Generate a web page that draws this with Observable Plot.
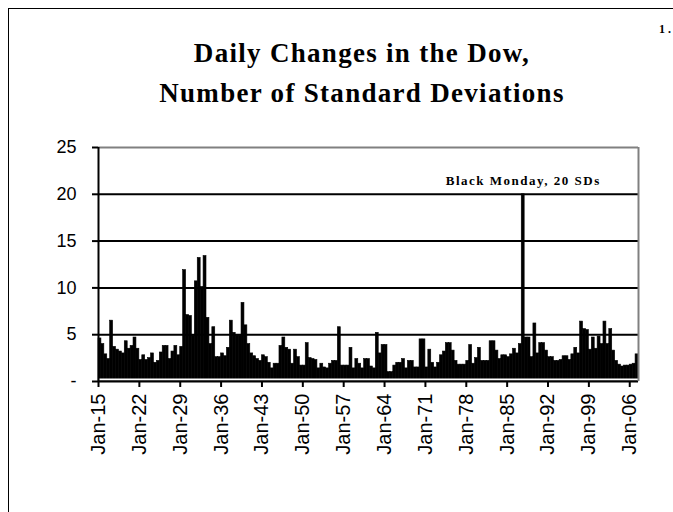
<!DOCTYPE html>
<html>
<head>
<meta charset="utf-8">
<script src="https://cdn.jsdelivr.net/npm/d3@7"></script>
<script src="https://cdn.jsdelivr.net/npm/@observablehq/plot@0.6"></script>
<style>
  html, body { margin: 0; padding: 0; background: #fff; width: 673px; height: 512px; overflow: hidden; }
  #frame { position: absolute; left: 8px; top: 8px; width: 800px; height: 700px; border-left: 1px solid #000; border-top: 1px solid #000; }
  .title { position: absolute; left: 0; width: 724px; text-align: center; font-family: "Liberation Serif", "Times New Roman", serif; font-weight: bold; font-size: 27px; letter-spacing: 1.3px; color: #000; white-space: nowrap; }
  #pageno { position: absolute; left: 659px; top: 22px; font-family: "Liberation Serif", serif; font-weight: bold; font-size: 12px; letter-spacing: 3px; }
  #chart { position: absolute; left: 0; top: 120px; }
  .annot text { letter-spacing: 1.5px; }
</style>
</head>
<body>
<div id="frame"></div>
<div class="title" style="top:38px">Daily Changes in the Dow,</div>
<div class="title" style="top:78px">Number of Standard Deviations</div>
<div id="pageno">1.</div>
<div id="chart"></div>
<script>
// Half-year periods starting January 1915; value = largest daily change, in standard deviations
const startYear = 1915;
const periodsPerYear = 2;
const sdValues = [
  4.6, 4.0, 2.9, 2.4, 6.5, 3.7, 3.4, 3.2, 3.0, 4.3,
  3.5, 3.8, 4.7, 3.5, 2.3, 2.8, 2.3, 2.5, 3.0, 2.0,
  2.2, 3.1, 3.8, 3.8, 2.4, 3.2, 3.8, 2.8, 3.7, 11.9,
  7.1, 7.0, 4.9, 10.7, 13.2, 10.1, 13.4, 6.8, 4.0, 5.8,
  2.6, 2.6, 3.0, 2.7, 3.6, 6.5, 5.2, 4.9, 4.9, 8.4,
  6.0, 4.0, 3.0, 2.7, 2.4, 2.2, 2.8, 2.6, 2.0, 1.4,
  1.9, 1.9, 3.8, 4.7, 3.6, 3.4, 1.9, 3.4, 2.6, 1.7,
  1.7, 4.1, 2.5, 2.4, 2.3, 1.4, 1.9, 1.5, 1.4, 1.9,
  2.2, 2.2, 5.8, 1.7, 1.7, 1.7, 3.6, 1.4, 2.4, 1.9,
  1.4, 2.4, 2.4, 1.6, 1.4, 5.2, 3.0, 3.9, 3.9, 1.0,
  1.0, 1.7, 2.0, 2.0, 2.4, 1.4, 2.2, 2.2, 1.5, 1.5,
  4.5, 4.5, 1.5, 3.4, 2.0, 1.5, 2.0, 2.8, 3.2, 4.1,
  4.1, 3.3, 2.2, 1.8, 1.8, 1.8, 2.2, 3.9, 1.9, 2.5,
  3.6, 2.2, 2.2, 2.2, 4.3, 4.3, 3.3, 2.4, 2.8, 2.8,
  2.6, 2.9, 3.5, 3.0, 4.0, 20.0, 4.7, 4.7, 2.6, 6.2,
  3.0, 4.1, 4.1, 3.3, 2.6, 2.6, 2.2, 2.2, 2.3, 2.7,
  2.7, 2.3, 2.9, 3.6, 3.0, 6.4, 5.6, 5.5, 3.4, 4.7,
  3.5, 4.8, 4.0, 6.4, 4.0, 5.6, 3.3, 2.2, 1.8, 1.6,
  1.7, 1.7, 1.8, 1.9, 2.9
];
const xTickYears = [1915, 1922, 1929, 1936, 1943, 1950, 1957, 1964, 1971, 1978, 1985, 1992, 1999, 2006];
const xTickLabels = ["Jan-15", "Jan-22", "Jan-29", "Jan-36", "Jan-43", "Jan-50", "Jan-57", "Jan-64", "Jan-71", "Jan-78", "Jan-85", "Jan-92", "Jan-99", "Jan-06"];
const yTicks = [0, 5, 10, 15, 20, 25];
const yTickLabels = ["-", "5", "10", "15", "20", "25"];
const gridValues = [5, 10, 15, 20];
const annotationText = "Black Monday, 20 SDs";
const annotationYear = 1987.75;
const annotationValue = 20;

const step = 1 / periodsPerYear;
const data = sdValues.map((v, i) => ({t: startYear + i * step, v}));
const xMin = startYear;
const xMax = startYear + sdValues.length * step;

const sans = "'Liberation Sans', Arial, sans-serif";
const chart = Plot.plot({
  width: 673,
  height: 392,
  marginLeft: 98,
  marginRight: 35,
  marginTop: 27,
  marginBottom: 131,
  style: {fontFamily: sans, fontSize: "18px", color: "#000", background: "transparent", overflow: "visible"},
  x: {domain: [xMin, xMax], range: [98, 638]},
  y: {domain: [0, 25]},
  marks: [
    Plot.ruleY(gridValues, {x1: xMin, x2: xMax, stroke: "#000", strokeWidth: 2}),
    Plot.rectY(data, {x1: "t", x2: d => d.t + step, y: "v", fill: "#000", stroke: "#000", strokeWidth: 0.6}),
    Plot.ruleY([0], {x1: xMin, x2: xMax, stroke: "#fff", strokeWidth: 2, dy: -2}),
    Plot.ruleY([0], {x1: xMin, x2: xMax, stroke: "#000", strokeWidth: 2}),
    Plot.ruleY([25], {x1: xMin, x2: xMax, stroke: "#808080", strokeWidth: 2}),
    Plot.ruleX([xMax], {y1: 0, y2: 25, stroke: "#808080", strokeWidth: 2}),
    Plot.ruleX([xMin], {y1: 0, y2: 25, stroke: "#000", strokeWidth: 2}),
    Plot.axisY({ticks: yTicks, tickFormat: d => yTickLabels[yTicks.indexOf(d)], tickSize: 6, tickPadding: 16, strokeWidth: 2, label: null, fontSize: 18}),
    Plot.axisX({ticks: xTickYears, tickFormat: d => xTickLabels[xTickYears.indexOf(d)], tickSize: 6, tickPadding: 6, tickRotate: -90, strokeWidth: 2, label: null, fontSize: 20}),
    Plot.text([annotationText], {x: annotationYear, y: annotationValue, text: d => d, dy: -13, fontFamily: "'Liberation Serif', serif", fontWeight: "bold", fontSize: 13, fill: "#000", textAnchor: "middle", className: "annot"})
  ]
});
document.getElementById("chart").appendChild(chart);
</script>
</body>
</html>
